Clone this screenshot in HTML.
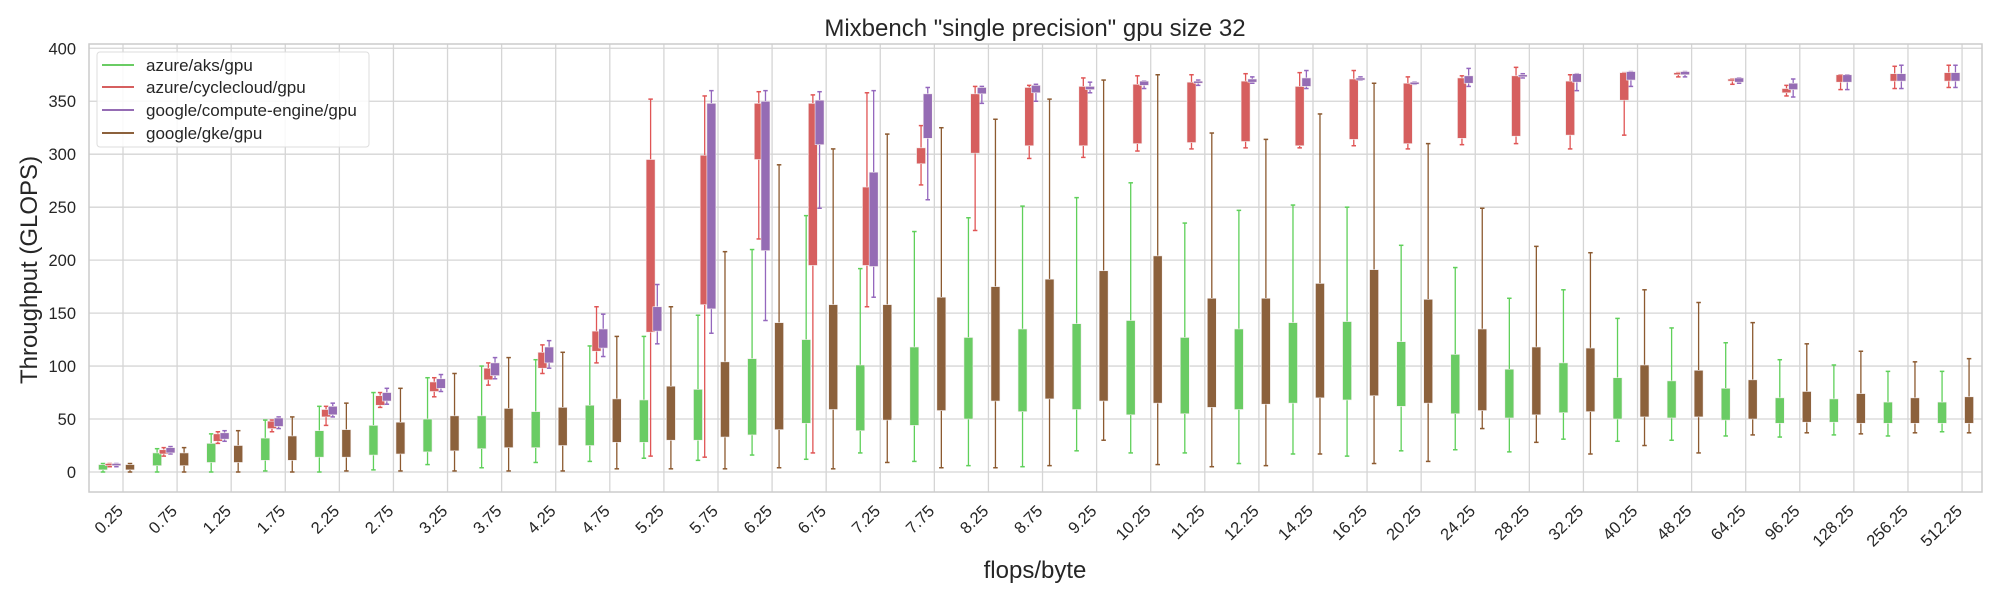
<!DOCTYPE html>
<html><head><meta charset="utf-8"><style>
html,body{margin:0;padding:0;background:#fff;}
svg{display:block;font-family:"Liberation Sans","DejaVu Sans",sans-serif;}
</style></head><body>
<svg id="chart" width="2000" height="600" viewBox="0 0 2000 600" xmlns="http://www.w3.org/2000/svg">
<rect x="0" y="0" width="2000" height="600" fill="#fff"/>
<g id="grid"></g>
<g id="boxes"></g>
<rect x="89" y="44" width="1893" height="448" fill="none" stroke="#cccccc" stroke-width="1.5"/>
<g id="yticks"></g>
<g id="xticks"></g>
<text x="1035" y="36" text-anchor="middle" font-size="24" fill="#262626">Mixbench "single precision" gpu size 32</text>
<text transform="translate(37,270) rotate(-90)" text-anchor="middle" font-size="24" fill="#262626">Throughput (GLOPS)</text>
<text x="1035" y="578" text-anchor="middle" font-size="24" fill="#262626">flops/byte</text>
<g>
<rect x="97" y="52" width="272" height="95" rx="3" fill="#fff" fill-opacity="0.85" stroke="#dddddd"/>
<line x1="102" y1="65" x2="134" y2="65" stroke="#6acc64" stroke-width="2"/>
<text x="146" y="71" font-size="17" fill="#262626">azure/aks/gpu</text>
<line x1="102" y1="87" x2="134" y2="87" stroke="#d65f5f" stroke-width="2"/>
<text x="146" y="93" font-size="17" fill="#262626">azure/cyclecloud/gpu</text>
<line x1="102" y1="110" x2="134" y2="110" stroke="#956cb4" stroke-width="2"/>
<text x="146" y="116" font-size="17" fill="#262626">google/compute-engine/gpu</text>
<line x1="102" y1="133" x2="134" y2="133" stroke="#8c613c" stroke-width="2"/>
<text x="146" y="139" font-size="17" fill="#262626">google/gke/gpu</text>
</g>
</svg>
<script>
const categories = ["0.25","0.75","1.25","1.75","2.25","2.75","3.25","3.75","4.25","4.75","5.25","5.75","6.25","6.75","7.25","7.75","8.25","8.75","9.25","10.25","11.25","12.25","14.25","16.25","20.25","24.25","28.25","32.25","40.25","48.25","64.25","96.25","128.25","256.25","512.25"];
const yTicks = [0,50,100,150,200,250,300,350,400];
// [whisker-low, q1, q3, whisker-high]
const aksStats = [[0,2,7,8],[0,6,18,22],[0,9,27,36],[1,11,32,49],[0,14,39,62],[2,16,44,75],[7,19,50,89],[4,22,53,100],[9,23,57,106],[10,25,63,119],[13,28,68,128],[11,30,78,148],[16,35,107,210],[12,46,125,242],[18,39,101,192],[10,44,118,227],[6,50,127,240],[5,57,135,251],[20,59,140,259],[18,54,143,273],[18,55,127,235],[8,59,135,247],[17,65,141,252],[15,68,142,250],[20,62,123,214],[21,55,111,193],[19,51,97,164],[31,56,103,172],[29,50,89,145],[30,51,86,136],[34,49,79,122],[33,46,70,106],[35,47,69,101],[34,46,66,95],[38,46,66,95]];
const cyclecloudStats = [[5,6,8,8],[15,17,21,23],[27,29,36,38],[38,41,48,49],[44,52,59,62],[61,63,72,75],[71,76,85,89],[82,87,98,103],[93,98,113,120],[103,114,133,156],[15,132,295,352],[14,158,299,355],[220,295,348,359],[18,195,348,356],[156,195,269,358],[271,291,306,327],[228,301,357,364],[296,308,363,365],[297,308,364,372],[303,310,366,374],[305,311,368,375],[306,312,369,376],[306,308,364,377],[308,314,371,379],[305,310,367,373],[309,315,372,374],[310,317,374,382],[305,318,369,375],[318,351,377,377],[373,375,377,377],[366,369,371,371],[355,358,362,365],[361,368,375,375],[362,369,376,383],[363,369,377,384]];
const computeEngineStats = [[5,6,8,8],[17,18,23,24],[29,31,37,39],[41,43,51,52],[52,54,62,65],[64,67,75,79],[76,79,88,92],[88,91,103,108],[98,103,118,124],[109,117,135,149],[121,133,156,177],[131,154,348,360],[143,209,350,360],[249,309,351,359],[165,194,283,360],[257,315,357,363],[348,357,363,364],[350,358,365,366],[358,361,364,368],[362,365,369,369],[365,367,369,370],[367,368,371,373],[362,364,372,379],[370,370,372,373],[366,366,368,368],[364,367,374,381],[372,373,375,376],[360,368,376,376],[364,370,378,378],[373,375,378,378],[367,368,372,372],[354,361,367,371],[361,368,375,375],[362,369,376,384],[363,369,377,384]];
const gkeStats = [[0,2,7,8],[0,6,18,23],[0,9,25,39],[0,11,34,52],[1,14,40,65],[1,17,47,79],[1,20,53,93],[1,23,60,108],[1,25,61,113],[3,28,69,128],[3,30,81,156],[3,33,104,208],[4,40,141,290],[3,59,158,305],[9,49,158,319],[4,58,165,325],[4,67,175,333],[6,69,182,352],[30,67,190,370],[7,65,204,375],[5,61,164,320],[6,64,164,314],[17,70,178,338],[8,72,191,367],[10,65,163,310],[41,58,135,249],[28,54,118,213],[17,57,117,207],[25,52,101,172],[18,52,96,160],[35,50,87,141],[37,47,76,121],[36,46,74,114],[37,46,70,104],[37,46,71,107]];

const NS = "http://www.w3.org/2000/svg";
function yScale(v){ return 472 - v*1.0593; }
function xScale(i){ return 123 + i*54.09; }
function mk(tag, attrs, parent){
  const e = document.createElementNS(NS, tag);
  for (const k in attrs) e.setAttribute(k, attrs[k]);
  parent.appendChild(e);
  return e;
}
const grid = document.getElementById('grid');
const boxes = document.getElementById('boxes');
const yt = document.getElementById('yticks');
const xt = document.getElementById('xticks');

yTicks.forEach(v => {
  const l = mk('line', {x1:89, x2:1982, y1:yScale(v), y2:yScale(v), stroke:'#d5d5d5', 'stroke-width':1.3}, grid);
  
  
  const t = mk('text', {x:76, y:yScale(v)+6, 'text-anchor':'end', 'font-size':16.5, fill:'#262626'}, yt);
  t.textContent = v;
  
  
});
categories.forEach((c, i) => {
  const x = xScale(i);
  const l = mk('line', {x1:x, x2:x, y1:44, y2:492, stroke:'#d5d5d5', 'stroke-width':1.3}, grid);
  
  
  const t = mk('text', {x:0, y:0, 'text-anchor':'end', 'font-size':16.5, fill:'#262626', transform:'translate(' + (x+1) + ',512) rotate(-45)'}, xt);
  t.textContent = c;
  
  
});

const series = [
  {name:'aks', stats:aksStats, fill:'#6acc64', line:'#5fd05a', off:-20},
  {name:'cyclecloud', stats:cyclecloudStats, fill:'#d65f5f', line:'#e05555', off:-13.3},
  {name:'compute-engine', stats:computeEngineStats, fill:'#956cb4', line:'#9467bd', off:-6.6},
  {name:'gke', stats:gkeStats, fill:'#8c613c', line:'#8c5a30', off:7}
];
const W = 9, CAP = 4.5;
series.forEach(s => {
  s.stats.forEach((d, i) => {
    const cx = xScale(i) + s.off;
    const g = mk('g', {}, boxes);
    
    
    mk('line', {x1:cx, x2:cx, y1:yScale(d[0]), y2:yScale(d[3]), stroke:s.line, 'stroke-width':1.3}, g);
    mk('line', {x1:cx-CAP/2, x2:cx+CAP/2, y1:yScale(d[0]), y2:yScale(d[0]), stroke:s.line, 'stroke-width':1.5}, g);
    mk('line', {x1:cx-CAP/2, x2:cx+CAP/2, y1:yScale(d[3]), y2:yScale(d[3]), stroke:s.line, 'stroke-width':1.5}, g);
    const top = yScale(d[2]), bot = yScale(d[1]);
    mk('rect', {x:cx-W/2, y:top, width:W, height:Math.max(bot-top, 1.5), fill:s.fill, stroke:'#f4eeee', 'stroke-width':0.6}, g);
  });
});
</script>
</body></html>
